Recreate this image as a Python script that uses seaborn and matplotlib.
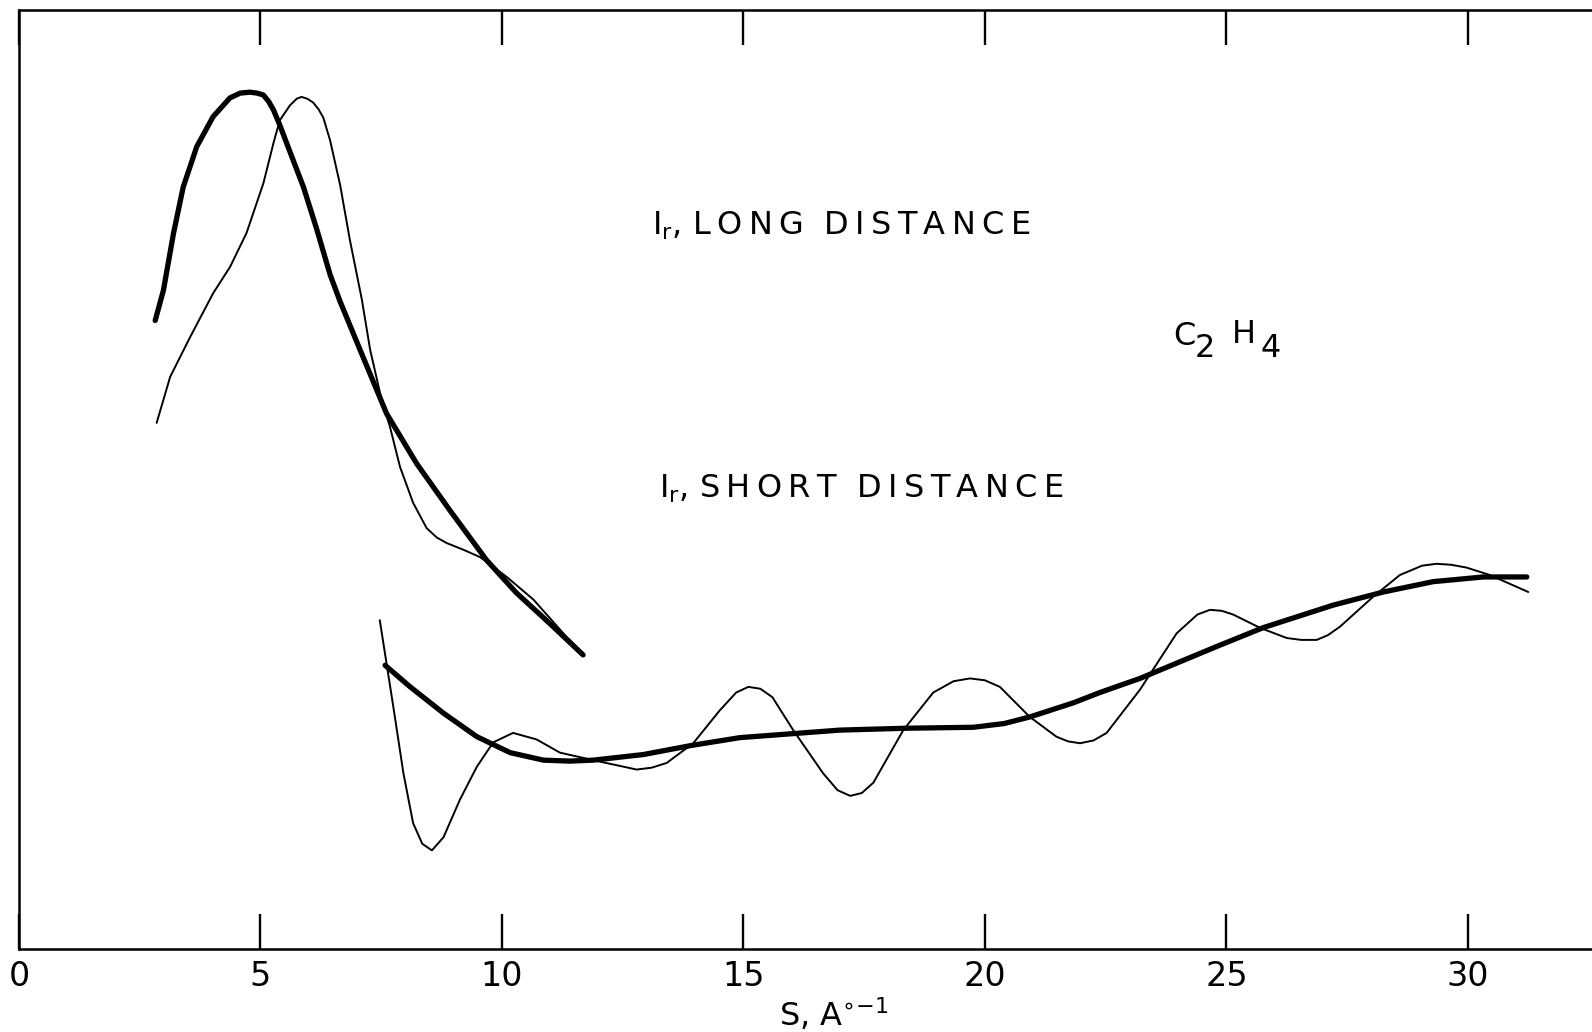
import numpy as np
import pandas as pd
import matplotlib
matplotlib.use("Agg")
import matplotlib.pyplot as plt
import seaborn as sns

# ---------------- data ----------------
long_thick_s = [2.82, 2.99, 3.20, 3.40, 3.68, 4.02, 4.37, 4.58, 4.78, 4.93, 5.06, 5.17,
                5.27, 5.40, 5.54, 5.89, 6.16, 6.44, 6.65, 7.06, 7.61, 8.23, 8.92, 9.68,
                10.30, 11.00, 11.68]
long_thick_i = [66.9, 70.1, 76.2, 81.1, 85.4, 88.6, 90.6, 91.1, 91.2, 91.1, 90.9, 90.2,
                89.3, 87.7, 85.8, 81.1, 76.7, 71.8, 68.9, 63.8, 57.0, 51.7, 46.7, 41.4,
                37.9, 34.6, 31.3]

long_thin_s = [2.85, 3.13, 3.54, 4.02, 4.37, 4.71, 5.06, 5.27, 5.40, 5.61, 5.75, 5.85,
               5.97, 6.09, 6.20, 6.30, 6.44, 6.65, 6.85, 7.10, 7.27, 7.51, 7.68, 7.89,
               8.16, 8.44, 8.65, 8.86, 9.20, 9.55, 10.10, 10.65, 11.34, 11.68]
long_thin_i = [56.0, 60.9, 65.1, 69.8, 72.6, 76.2, 81.5, 85.8, 88.2, 89.8, 90.5, 90.7,
               90.5, 90.1, 89.4, 88.5, 86.1, 81.3, 75.5, 69.1, 63.8, 58.4, 55.6, 51.3,
               47.5, 44.8, 43.8, 43.2, 42.5, 41.7, 39.6, 37.2, 33.2, 31.5]

short_thick_s = [7.58, 8.10, 8.79, 9.48, 10.17, 10.86, 11.40, 11.89, 12.93, 13.96, 14.93,
                 17.00, 18.38, 19.76, 20.40, 20.93, 21.83, 22.38, 23.21, 24.80, 25.76,
                 27.21, 28.25, 29.28, 30.32, 31.22]
short_thick_i = [30.2, 27.9, 25.1, 22.6, 20.9, 20.1, 20.0, 20.1, 20.7, 21.7, 22.5,
                 23.3, 23.5, 23.6, 24.0, 24.7, 26.2, 27.3, 28.8, 32.2, 34.2,
                 36.6, 38.0, 39.1, 39.6, 39.6]

short_thin_s = [7.47, 7.75, 7.96, 8.16, 8.35, 8.55, 8.79, 9.13, 9.48, 9.82, 10.23, 10.72,
                11.20, 11.89, 12.79, 13.10, 13.41, 13.96, 14.51, 14.85, 15.10, 15.35,
                15.60, 16.03, 16.65, 16.95, 17.21, 17.45, 17.69, 18.31, 18.93, 19.35,
                19.69, 20.00, 20.31, 20.93, 21.48, 21.72, 21.97, 22.25, 22.52, 23.21,
                23.97, 24.40, 24.66, 24.90, 25.14, 25.69, 26.25, 26.55, 26.87, 27.10,
                27.35, 28.04, 28.59, 29.05, 29.35, 29.65, 29.97, 30.46, 31.25]
short_thin_i = [35.0, 25.8, 18.7, 13.4, 11.2, 10.5, 11.9, 15.9, 19.4, 22.0, 23.0, 22.3,
                20.9, 20.1, 19.1, 19.3, 19.8, 21.9, 25.4, 27.3, 27.9, 27.7,
                26.8, 23.3, 18.7, 16.9, 16.3, 16.6, 17.7, 23.3, 27.3, 28.5,
                28.8, 28.6, 27.9, 24.7, 22.6, 22.1, 21.9, 22.2, 23.0, 27.6,
                33.6, 35.6, 36.1, 36.0, 35.6, 34.2, 33.1, 32.9, 32.9, 33.4,
                34.3, 37.5, 39.8, 40.8, 41.0, 40.9, 40.6, 39.8, 38.0]

x_ticks = [0, 5, 10, 15, 20, 25, 30]
x_tick_labels = ["0", "5", "10", "15", "20", "25", "30"]
label_long = "I$_\\mathregular{r}$, L\u2009O\u2009N\u2009G  D\u2009I\u2009S\u2009T\u2009A\u2009N\u2009C\u2009E"
label_short = "I$_\\mathregular{r}$, S\u2009H\u2009O\u2009R\u2009T  D\u2009I\u2009S\u2009T\u2009A\u2009N\u2009C\u2009E"
formula_parts = ["C", "2", "H", "4"]
x_label = "S, A$^{\\circ\\mathregular{-1}}$"

# ---------------- figure ----------------
sns.set_style("white")
plt.rcParams["font.family"] = ["DejaVu Sans"]
plt.rcParams["mathtext.fontset"] = "dejavusans"
plt.rcParams["text.color"] = "black"

fig = plt.figure(figsize=(15.92, 10.32), dpi=100)
ax = fig.add_axes([19 / 1592, 1 - 949 / 1032, 1 - 19 / 1592, (949 - 9.5) / 1032])

thick_lw = 3.8
thin_lw = 1.4
for s, i, lw in [(long_thick_s, long_thick_i, thick_lw),
                 (long_thin_s, long_thin_i, thin_lw),
                 (short_thick_s, short_thick_i, thick_lw),
                 (short_thin_s, short_thin_i, thin_lw)]:
    sns.lineplot(x=s, y=i, sort=False, estimator=None, color="black",
                 linewidth=lw, ax=ax, solid_joinstyle="round", solid_capstyle="round")

ax.set_xlim(0, 32.57)
ax.set_ylim(0, 100)

for side in ["left", "top", "bottom"]:
    ax.spines[side].set_visible(True)
    ax.spines[side].set_color("black")
    ax.spines[side].set_linewidth(1.8)
ax.spines["right"].set_visible(False)

ax.set_xticks(x_ticks)
ax.set_xticklabels(x_tick_labels)
ax.tick_params(axis="x", which="both", direction="in", length=25.5, width=1.7,
               top=True, bottom=True, labelsize=24, pad=8, colors="black")
ax.set_yticks([])

ax.set_xlabel(x_label, fontsize=23, color="black")
ax.xaxis.set_label_coords((834 - 19) / 1573, -0.07)
ax.xaxis.label.set_va("center")

ax.text(13.10, 76.0, label_long, fontsize=23, ha="left", va="baseline", color="black")
ax.text(13.25, 48.0, label_short, fontsize=23, ha="left", va="baseline", color="black")

fx = [23.89, 24.35, 25.12, 25.70]
fy = [64.3, 63.0, 64.5, 63.0]
for t, xx, yy in zip(formula_parts, fx, fy):
    ax.text(xx, yy, t, fontsize=23, ha="left", va="baseline", color="black")

fig.savefig("out.png", dpi=100, facecolor="white")
